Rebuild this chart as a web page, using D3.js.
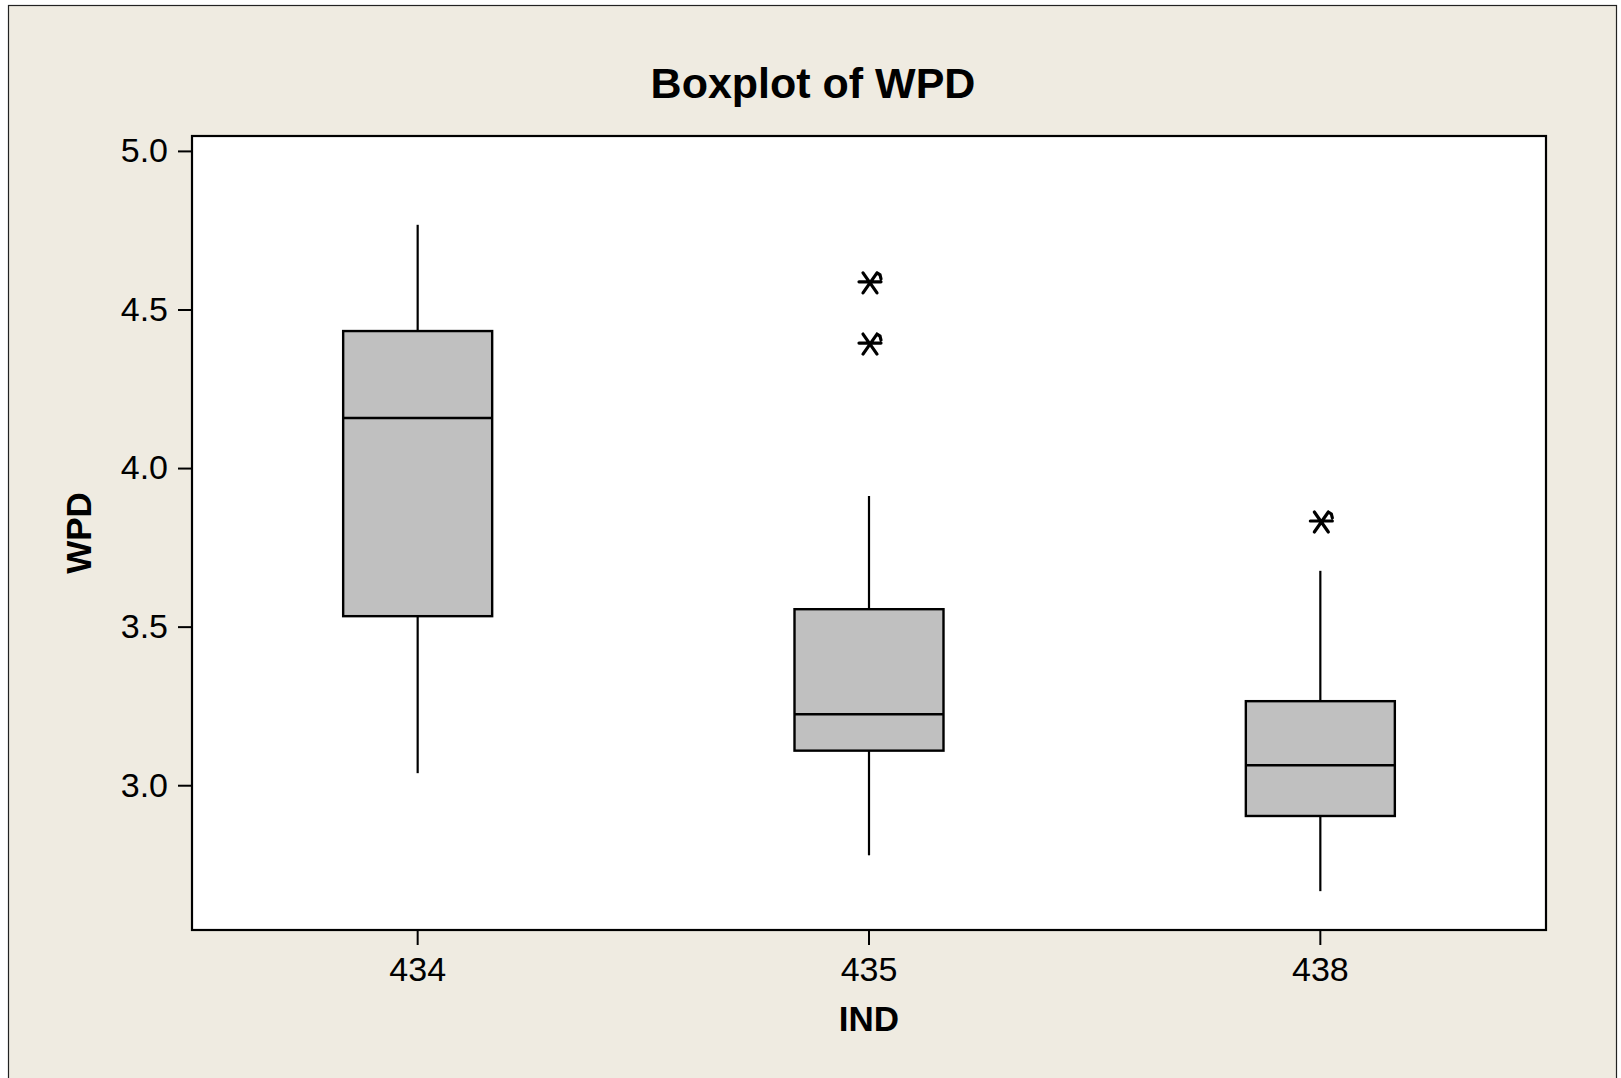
<!DOCTYPE html>
<html>
<head>
<meta charset="utf-8">
<script src="https://cdn.jsdelivr.net/npm/d3@7"></script>
<style>
  body { margin: 0; background: #fff; }
  svg { display: block; }
  text { font-family: "Liberation Sans", Arial, sans-serif; fill: #000; }
</style>
</head>
<body>
<svg id="canvas" width="1621" height="1078"></svg>
<script>
// groups and their box stats
const groups = ["434", "435", "438"];
const whiskerLow = [3.038, 2.779, 2.666];
const q1 = [3.533, 3.109, 2.903];
const median = [4.158, 3.224, 3.063];
const q3 = [4.432, 3.555, 3.265];
const whiskerHigh = [4.767, 3.912, 3.676];
// outliers: [group, value]
const outliers = [["435", 4.584], ["435", 4.391], ["438", 3.830]];
const yTicks = [3.0, 3.5, 4.0, 4.5, 5.0];

const svg = d3.select('#canvas');

// background panel
svg.append('rect')
  .attr('x', 8.5).attr('y', 5.5)
  .attr('width', 1608).attr('height', 1090)
  .attr('fill', '#efebe1')
  .attr('stroke', '#222').attr('stroke-width', 1.2);

const plot = { left: 192, right: 1546, top: 136, bottom: 930 };

const x = d3.scaleBand()
  .domain(groups)
  .range([plot.left, plot.right])
  .padding(0);

const y = d3.scaleLinear()
  .domain([2.5435, 5.047])
  .range([plot.bottom, plot.top]);

// plot area
svg.append('rect')
  .attr('x', plot.left).attr('y', plot.top)
  .attr('width', plot.right - plot.left).attr('height', plot.bottom - plot.top)
  .attr('fill', '#fff')
  .attr('stroke', '#000').attr('stroke-width', 2.2);

// axes
const yAxis = d3.axisLeft(y)
  .tickValues(yTicks)
  .tickFormat(d3.format('.1f'))
  .tickSize(14)
  .tickPadding(10);
const gy = svg.append('g')
  .attr('transform', `translate(${plot.left},0)`)
  .call(yAxis);
gy.select('.domain').remove();
gy.selectAll('line').attr('stroke', '#000').attr('stroke-width', 2);
gy.selectAll('text')
  .style('font-family', '"Liberation Sans", Arial, sans-serif')
  .style('font-size', '34px')
  .attr('fill', '#000');

const xAxis = d3.axisBottom(x)
  .tickSize(15)
  .tickPadding(12);
const gx = svg.append('g')
  .attr('transform', `translate(0,${plot.bottom})`)
  .call(xAxis);
gx.select('.domain').remove();
gx.selectAll('line').attr('stroke', '#000').attr('stroke-width', 2);
gx.selectAll('text')
  .style('font-family', '"Liberation Sans", Arial, sans-serif')
  .style('font-size', '34px')
  .attr('fill', '#000');

// boxes
const boxW = 149;
const stats = groups.map((g, i) => ({
  g, lo: whiskerLow[i], q1: q1[i], med: median[i], q3: q3[i], hi: whiskerHigh[i]
}));

const boxes = svg.append('g').selectAll('g')
  .data(stats)
  .enter().append('g')
  .attr('transform', d => `translate(${x(d.g) + x.bandwidth() / 2},0)`);

boxes.append('line')
  .attr('x1', 0).attr('x2', 0)
  .attr('y1', d => y(d.q3)).attr('y2', d => y(d.hi))
  .attr('stroke', '#000').attr('stroke-width', 2.2);
boxes.append('line')
  .attr('x1', 0).attr('x2', 0)
  .attr('y1', d => y(d.q1)).attr('y2', d => y(d.lo))
  .attr('stroke', '#000').attr('stroke-width', 2.2);
boxes.append('rect')
  .attr('x', -boxW / 2).attr('width', boxW)
  .attr('y', d => y(d.q3))
  .attr('height', d => y(d.q1) - y(d.q3))
  .attr('fill', '#c0c0c0')
  .attr('stroke', '#000').attr('stroke-width', 2.4);
boxes.append('line')
  .attr('x1', -boxW / 2).attr('x2', boxW / 2)
  .attr('y1', d => y(d.med)).attr('y2', d => y(d.med))
  .attr('stroke', '#000').attr('stroke-width', 2.4);

// outlier asterisks
const star = 'M-11,-1L11,-1M-7,-10L7,10M7,-10L-7,10M7,-10L10,-8L11,-4';
svg.append('g').selectAll('path')
  .data(outliers)
  .enter().append('path')
  .attr('transform', d => `translate(${x(d[0]) + x.bandwidth() / 2 + 1},${y(d[1])})`)
  .attr('d', star)
  .attr('fill', 'none')
  .attr('stroke', '#000').attr('stroke-width', 3.2)
  .attr('stroke-linecap', 'round');

// titles
svg.append('text')
  .attr('x', 813).attr('y', 98)
  .attr('text-anchor', 'middle')
  .style('font-size', '43px').style('font-weight', 'bold')
  .text('Boxplot of WPD');

svg.append('text')
  .attr('x', 869).attr('y', 1031)
  .attr('text-anchor', 'middle')
  .style('font-size', '35px').style('font-weight', 'bold')
  .text('IND');

svg.append('text')
  .attr('transform', 'translate(91,533) rotate(-90)')
  .attr('text-anchor', 'middle')
  .style('font-size', '35px').style('font-weight', 'bold')
  .text('WPD');
</script>
</body>
</html>
